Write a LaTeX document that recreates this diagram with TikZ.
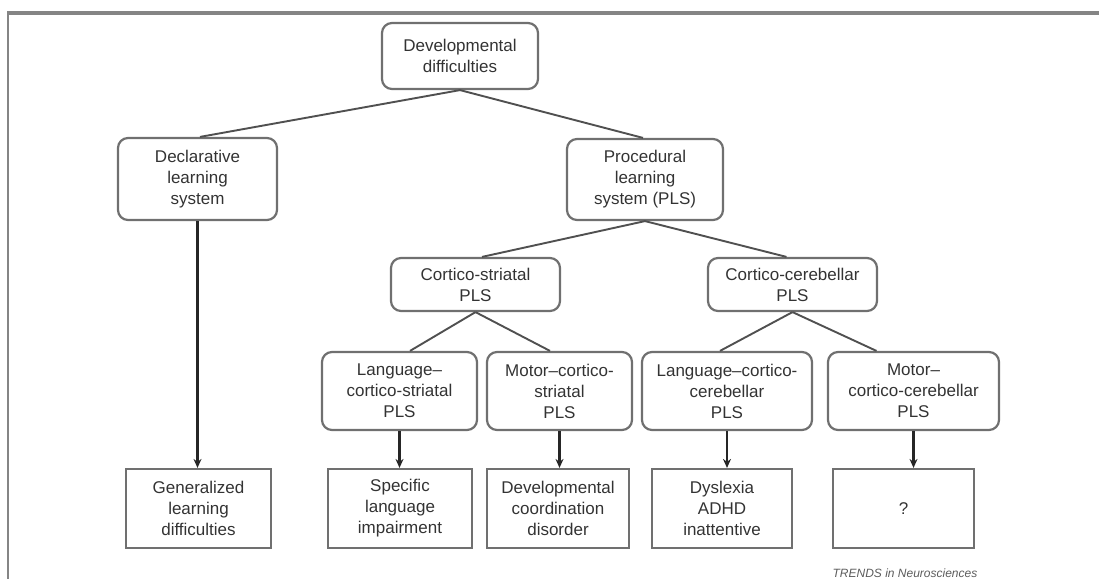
\documentclass[tikz,border=0pt]{standalone}
\usepackage{fontspec}
\setmainfont{Liberation Sans}
\usetikzlibrary{arrows.meta,calc}
\definecolor{boxgray}{HTML}{707070}
\definecolor{linegray}{HTML}{505050}
\definecolor{txtgray}{HTML}{333333}
\definecolor{framegray}{HTML}{858585}
\begin{document}
\begin{tikzpicture}[x=1pt,y=-1pt,
  base/.style={draw=boxgray,line width=2.2pt,align=center,text=txtgray,
    font=\fontsize{17pt}{21pt}\selectfont,inner sep=0pt,anchor=center},
  rbox/.style={base,rounded corners=10pt},
  sbox/.style={base,minimum height=79pt},
  link/.style={draw=linegray,line width=1.9pt},
  arr/.style={draw=black!85,line width=2.6pt,-{Stealth[length=9pt,width=8pt]}}]
\useasboundingbox (0,0) rectangle (1099,579);
% frame
\draw[framegray,line width=3.2pt] (7,13) -- (1099,13);
\draw[framegray,line width=2.8pt] (8,13) -- (8,579);
% nodes
\node[rbox,minimum width=156pt,minimum height=66pt] (dev) at (460,56) {Developmental\\difficulties};
\node[rbox,minimum width=159pt,minimum height=82pt] (decl) at (197.5,179) {Declarative\\learning\\system};
\node[rbox,minimum width=156pt,minimum height=81pt] (proc) at (645,179.5) {Procedural\\learning\\system (PLS)};
\node[rbox,minimum width=169pt,minimum height=53pt] (cs) at (475.5,284.5) {Cortico-striatal\\PLS};
\node[rbox,minimum width=169pt,minimum height=53pt] (cc) at (792.5,284.5) {Cortico-cerebellar\\PLS};
\node[rbox,minimum width=155pt,minimum height=78pt] (lcs) at (399.5,391) {Language–\\cortico-striatal\\PLS};
\node[rbox,minimum width=145pt,minimum height=78pt] (mcs) at (559.5,391) {Motor–cortico-\\striatal\\PLS};
\node[rbox,minimum width=170pt,minimum height=78pt] (lcc) at (727,391) {Language–cortico-\\cerebellar\\PLS};
\node[rbox,minimum width=171pt,minimum height=78pt] (mcc) at (913.5,391) {Motor–\\cortico-cerebellar\\PLS};
\node[sbox,minimum width=145pt] (gen) at (198.5,508.5) {Generalized\\learning\\difficulties};
\node[sbox,minimum width=144pt] (sli) at (400,508.5) {Specific\\language\\impairment};
\node[sbox,minimum width=142pt] (dcd) at (558,508.5) {Developmental\\coordination\\disorder};
\node[sbox,minimum width=140pt] (dys) at (722,508.5) {Dyslexia\\ADHD\\inattentive};
\node[sbox,minimum width=141pt] (q) at (903.5,508.5) {?};
\node[text=txtgray!80,font=\fontsize{12pt}{14pt}\selectfont\itshape,inner sep=0pt] (credit) at (905,573) {TRENDS in Neurosciences};
% connectors
\draw[link] (dev.south) -- ($(decl.north)+(2.5,0)$);
\draw[link] (dev.south) -- ($(proc.north)+(-2,0)$);
\draw[link] (proc.south) -- ($(cs.north)+(6.5,0)$);
\draw[link] (proc.south) -- ($(cc.north)+(-6,0)$);
\draw[link] (cs.south) -- ($(lcs.north)+(10.5,0)$);
\draw[link] (cs.south) -- ($(mcs.north)+(-9.5,0)$);
\draw[link] (cc.south) -- ($(lcc.north)+(-7,0)$);
\draw[link] (cc.south) -- ($(mcc.north)+(-37,0)$);
% arrows
\draw[arr] (decl.south) -- (decl.south |- gen.north);
\draw[arr] (lcs.south) -- (lcs.south |- sli.north);
\draw[arr] (mcs.south) -- (mcs.south |- dcd.north);
\draw[arr] (lcc.south) -- (lcc.south |- dys.north);
\draw[arr] (mcc.south) -- (mcc.south |- q.north);
\end{tikzpicture}
\end{document}
